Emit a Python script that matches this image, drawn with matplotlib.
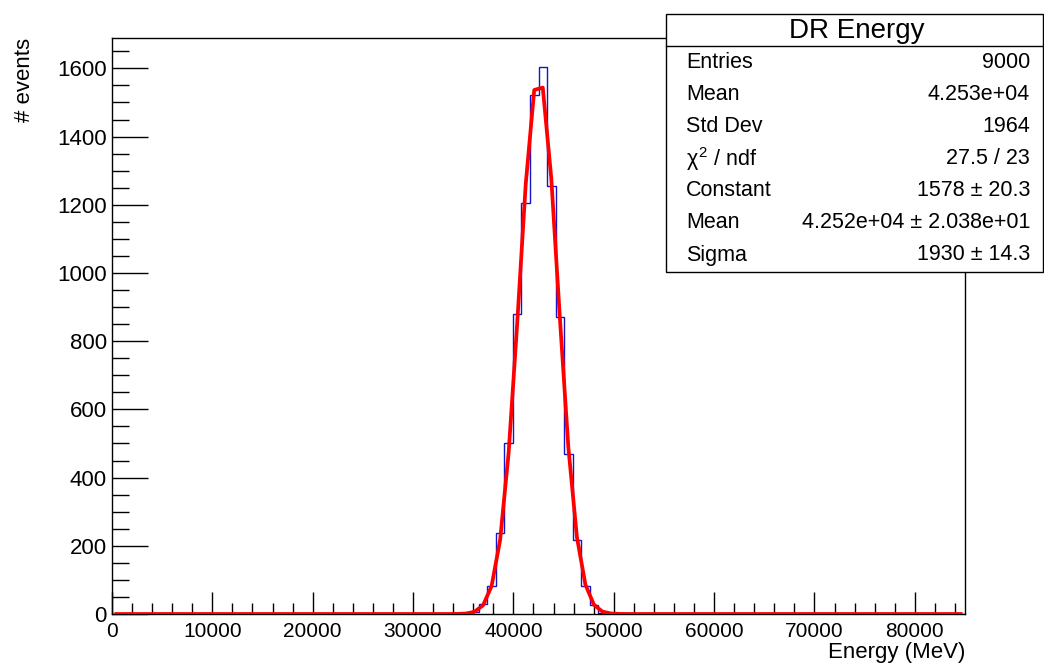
import numpy as np
import matplotlib
matplotlib.use("Agg")
import matplotlib.pyplot as plt
from matplotlib.patches import Rectangle
from matplotlib.lines import Line2D
from matplotlib.ticker import MultipleLocator

# ---- data ----
x_min, x_max, n_bins = 0.0, 85000.0, 100
first_bin = 40                     # index of first non-empty bin
bin_counts = [2, 4, 5, 29, 81, 237, 500, 880, 1204, 1523, 1605,
              1256, 872, 468, 218, 81, 26, 4, 2]
fit_const, fit_mean, fit_sigma = 1578.0, 42520.0, 1930.0
x_ticks = [0, 10000, 20000, 30000, 40000, 50000, 60000, 70000, 80000]
y_ticks = [0, 200, 400, 600, 800, 1000, 1200, 1400, 1600]
stats_title = "DR Energy"
stats_rows = [("Entries", "9000"), ("Mean", "4.253e+04"), ("Std Dev", "1964"),
              (r"$\chi^{2}$ / ndf", "27.5 / 23"), ("Constant", "1578 ± 20.3"),
              ("Mean", "4.252e+04 ± 2.038e+01"), ("Sigma", "1930 ± 14.3")]

edges = np.linspace(x_min, x_max, n_bins + 1)
counts = np.zeros(n_bins)
counts[first_bin:first_bin + len(bin_counts)] = bin_counts
centers = 0.5 * (edges[:-1] + edges[1:])
fit_y = fit_const * np.exp(-0.5 * ((centers - fit_mean) / fit_sigma) ** 2)

plt.rcParams['font.family'] = ['Liberation Sans', 'DejaVu Sans']
plt.rcParams['mathtext.fontset'] = 'custom'
plt.rcParams['mathtext.rm'] = 'Liberation Sans'
plt.rcParams['mathtext.it'] = 'Liberation Sans'

W, H = 1044, 664
fig = plt.figure(figsize=(W / 100, H / 100), dpi=100)
ax = fig.add_axes([112 / W, 1 - 614 / H, (965 - 112) / W, (614 - 38) / H])

ax.stairs(counts, edges, color='#1414c8', lw=1.0, zorder=2)
ax.plot(centers, fit_y, color='#ff0000', lw=2.7, zorder=3, solid_joinstyle='round')

ax.set_xlim(x_min, x_max)
ax.set_ylim(0, 1689)
ax.set_xticks(x_ticks)
ax.set_yticks(y_ticks)
ax.xaxis.set_minor_locator(MultipleLocator(2000))
ax.yaxis.set_minor_locator(MultipleLocator(50))
ax.tick_params(axis='both', which='both', direction='in', top=False, right=False,
               width=1.0, color='black')
ax.tick_params(axis='x', which='major', length=16, pad=5.5, labelsize=15)
ax.tick_params(axis='x', which='minor', length=8)
ax.tick_params(axis='y', which='major', length=26, pad=3.8, labelsize=16)
ax.tick_params(axis='y', which='minor', length=12)
for s in ax.spines.values():
    s.set_linewidth(1.0)

ax.set_xlabel("Energy (MeV)", fontsize=16, loc='right')
ax.xaxis.set_label_coords(1.0, (614 - 642) / 576)
ax.set_ylabel("# events", fontsize=16, loc='top')
ax.yaxis.set_label_coords((35 - 112) / 853, 1.0)

# ---- stats box ----
bx0, bx1, by0, by1, bsep = 666, 1043, 14, 272, 46
def fx(p): return p / W
def fy(p): return 1 - p / H
fig.patches.append(Rectangle((fx(bx0), fy(by1)), fx(bx1 - bx0), (by1 - by0) / H,
                             transform=fig.transFigure, facecolor='white',
                             edgecolor='black', lw=1.0, zorder=5))
fig.lines.append(Line2D([fx(bx0), fx(bx1)], [fy(bsep), fy(bsep)],
                        transform=fig.transFigure, color='black', lw=1.0, zorder=6))
fig.text(fx((bx0 + bx1) / 2 + 2), fy(31), stats_title, ha='center', va='center',
         fontsize=20, zorder=7)
row_y0, row_dy = 63, 32
for i, (k, v) in enumerate(stats_rows):
    yy = fy(row_y0 + i * row_dy)
    fig.text(fx(686), yy, k, ha='left', va='center', fontsize=15.5, zorder=7)
    fig.text(fx(1030), yy, v, ha='right', va='center', fontsize=15.5, zorder=7)

fig.savefig("out.png", dpi=100)
